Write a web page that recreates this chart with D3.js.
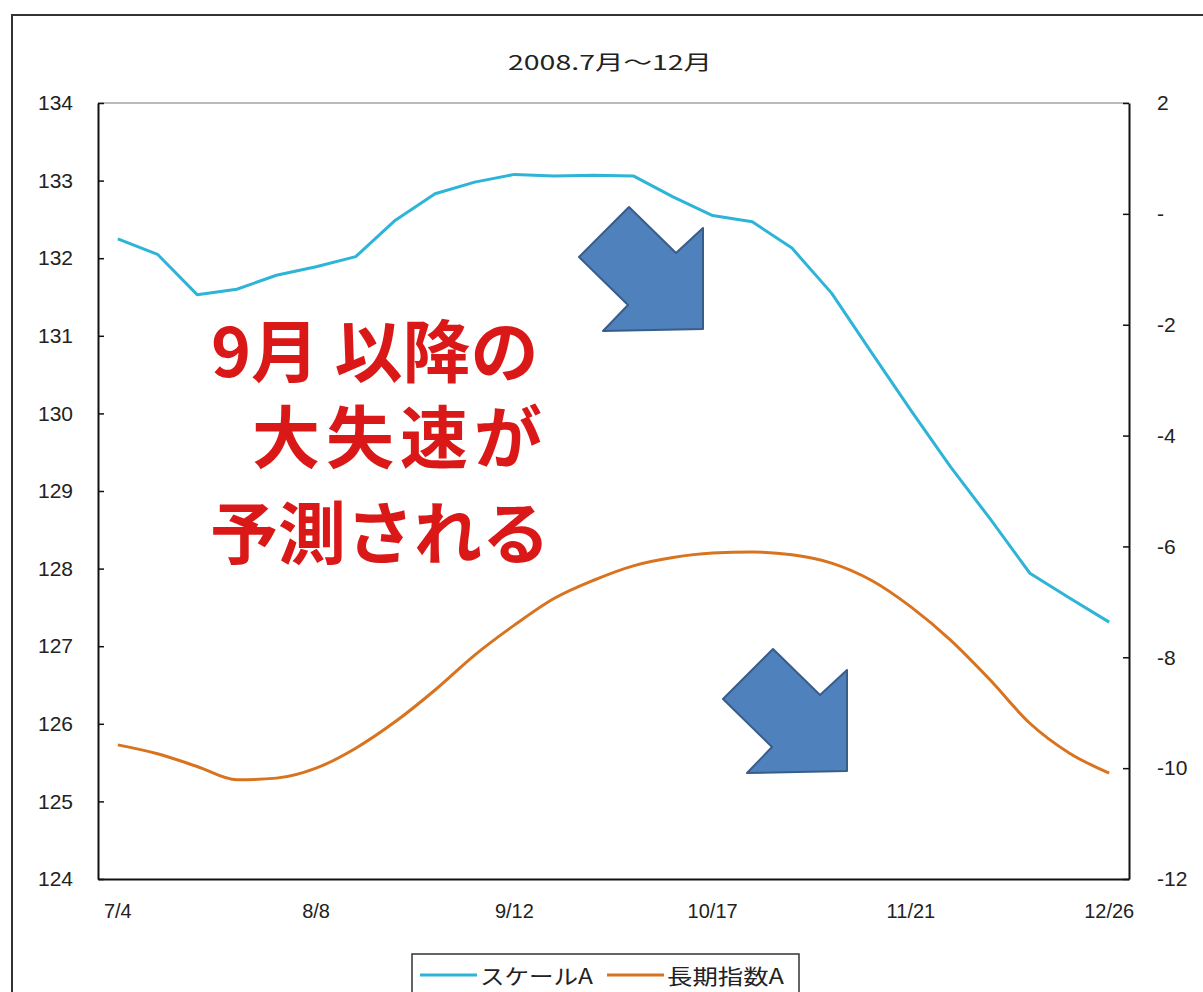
<!DOCTYPE html>
<html>
<head>
<meta charset="utf-8">
<script src="https://cdn.jsdelivr.net/npm/d3@7"></script>
<style>
html,body{margin:0;padding:0;background:#fff;}
svg{display:block;}
</style>
</head>
<body>
<svg id="chart" width="1203" height="992"></svg>
<script>
// ---- data ----
const categories = ["7/4","7/11","7/18","7/25","8/1","8/8","8/15","8/22","8/29","9/5","9/12","9/19","9/26","10/3","10/10","10/17","10/24","10/31","11/7","11/14","11/21","11/28","12/5","12/12","12/19","12/26"];
const xTickLabels = ["7/4","8/8","9/12","10/17","11/21","12/26"];
const scaleA = [132.25,132.05,131.53,131.60,131.78,131.89,132.02,132.49,132.83,132.98,133.08,133.06,133.07,133.06,132.79,132.55,132.47,132.13,131.55,130.79,130.04,129.31,128.64,127.94,127.62,127.31];
const longIndexA = [-9.58,-9.74,-9.97,-10.21,-10.18,-10.00,-9.64,-9.16,-8.59,-7.96,-7.42,-6.94,-6.61,-6.35,-6.20,-6.12,-6.10,-6.15,-6.30,-6.61,-7.09,-7.69,-8.41,-9.19,-9.73,-10.09];
const leftTicks = [124,125,126,127,128,129,130,131,132,133,134];
const rightTicks = [2,0,-2,-4,-6,-8,-10,-12];
const rightTickLabels = ["2","-","-2","-4","-6","-8","-10","-12"];
const seriesNames = ["スケールA","長期指数A"];
const title = "2008.7月〜12月";
const noteLines = ["9月 以降の","大失速が","予測される"];

// ---- layout ----
const W = 1203, H = 992;
const plot = {left:98, right:1129, top:103, bottom:879};
const colors = ["#2DB4D6","#D8731F"];
const font = "'Liberation Sans', Arial, sans-serif";
const jfont = "'Noto Sans CJK JP', sans-serif";

const svg = d3.select("#chart");
svg.append("rect").attr("width",W).attr("height",H).attr("fill","#fff");
// outer frame
svg.append("rect").attr("x",12).attr("y",15).attr("width",W+20).attr("height",H+20)
  .attr("fill","none").attr("stroke","#333").attr("stroke-width",2);

const x = d3.scaleBand().domain(categories).range([plot.left, plot.right]).padding(0);
const xc = d => x(d) + x.bandwidth()/2;
const yL = d3.scaleLinear().domain([124,134]).range([plot.bottom, plot.top]);
const yR = d3.scaleLinear().domain([-12,2]).range([plot.bottom, plot.top]);

// title
svg.append("text").attr("x",610).attr("y",61)
  .attr("text-anchor","middle").attr("dominant-baseline","central")
  .attr("font-family",jfont).attr("font-size",20).attr("fill","#222")
  .attr("textLength",204).attr("lengthAdjust","spacingAndGlyphs")
  .text(title);

// plot border top (gray)
svg.append("line").attr("x1",plot.left).attr("x2",plot.right).attr("y1",plot.top).attr("y2",plot.top)
  .attr("stroke","#777").attr("stroke-width",1.2);

// left axis
const gL = svg.append("g").attr("transform",`translate(${plot.left},0)`)
  .call(d3.axisLeft(yL).tickValues(leftTicks).tickSizeInner(-6).tickSizeOuter(0).tickPadding(25).tickFormat(d3.format("d")));
gL.select(".domain").attr("stroke","#111").attr("stroke-width",2);
gL.selectAll(".tick line").attr("stroke","#111").attr("stroke-width",1.5);
gL.selectAll(".tick text").attr("font-family",font).attr("font-size",21).attr("fill","#222");

// right axis
const gR = svg.append("g").attr("transform",`translate(${plot.right},0)`)
  .call(d3.axisRight(yR).tickValues(rightTicks).tickSizeInner(-6).tickSizeOuter(0).tickPadding(28)
    .tickFormat((d,i) => rightTickLabels[i]));
gR.select(".domain").attr("stroke","#111").attr("stroke-width",2);
gR.selectAll(".tick line").attr("stroke","#111").attr("stroke-width",1.5);
gR.selectAll(".tick text").attr("font-family",font).attr("font-size",21).attr("fill","#222");

// bottom axis
const gB = svg.append("g").attr("transform",`translate(0,${plot.bottom})`)
  .call(d3.axisBottom(x).tickValues(xTickLabels).tickSize(0).tickPadding(25));
gB.select(".domain").attr("stroke","#111").attr("stroke-width",2);
gB.selectAll(".tick text").attr("font-family",font).attr("font-size",20).attr("fill","#222");

// lines
const lineL = d3.line().x((d,i)=>xc(categories[i])).y(d=>yL(d));
const lineR = d3.line().x((d,i)=>xc(categories[i])).y(d=>yR(d)).curve(d3.curveMonotoneX);
svg.append("path").datum(scaleA).attr("d",lineL).attr("fill","none")
  .attr("stroke",colors[0]).attr("stroke-width",3).attr("stroke-linejoin","round");
svg.append("path").datum(longIndexA).attr("d",lineR).attr("fill","none")
  .attr("stroke",colors[1]).attr("stroke-width",3).attr("stroke-linejoin","round");

// arrows (annotation shapes)
const arrowShape = [[-124,-72],[-74,-122],[-27,-76],[0,-101],[0,0],[-100,2],[-75,-24]];
const arrowTips = [[703,329],[847,771]];
svg.selectAll("polygon.arrow").data(arrowTips).join("polygon").attr("class","arrow")
  .attr("points", t => arrowShape.map(p => [t[0]+p[0], t[1]+p[1]].join(",")).join(" "))
  .attr("fill","#4F81BD").attr("stroke","#385D8A").attr("stroke-width",2).attr("stroke-linejoin","round");

// red annotation text (one text block, three lines)
const noteX = [211,252,210], noteY = [347,433,529], noteSpacing = [0,6,0];
const note = svg.append("text").attr("class","note")
  .attr("font-family",jfont).attr("font-weight",700).attr("font-size",68)
  .attr("fill","#DA1818");
note.selectAll("tspan").data(noteLines).join("tspan")
  .attr("x",(d,i)=>noteX[i]).attr("y",(d,i)=>noteY[i])
  .attr("dominant-baseline","central")
  .attr("letter-spacing",(d,i)=>noteSpacing[i])
  .text(d=>d);

// legend
const lg = svg.append("g");
lg.append("rect").attr("x",412).attr("y",954).attr("width",387).attr("height",60)
  .attr("fill","#fff").attr("stroke","#333").attr("stroke-width",1.5);
const legX = [420,607], legTextW = [113,117];
seriesNames.forEach((n,i)=>{
  lg.append("line").attr("x1",legX[i]).attr("x2",legX[i]+57).attr("y1",975).attr("y2",975)
    .attr("stroke",colors[i]).attr("stroke-width",3);
  lg.append("text").attr("x",legX[i]+60).attr("y",975).attr("dominant-baseline","central")
    .attr("font-family",jfont).attr("font-size",21).attr("fill","#222")
    .attr("textLength",legTextW[i]).attr("lengthAdjust","spacingAndGlyphs").text(n);
});
</script>
</body>
</html>
